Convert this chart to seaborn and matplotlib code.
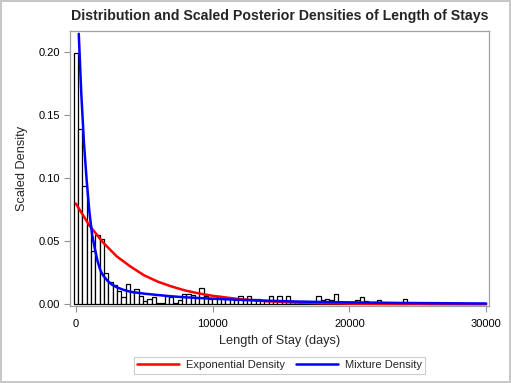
import numpy as np
import matplotlib
matplotlib.use("Agg")
import matplotlib.pyplot as plt
import seaborn as sns

# histogram: bin width and scaled heights
bin_width = 317
bar_heights = [
    0.199, 0.139, 0.094, 0.063, 0.042, 0.055, 0.052, 0.025, 0.018, 0.015,
    0.011, 0.006, 0.016, 0.010, 0.012, 0.007, 0.003, 0.004, 0.006, 0.001,
    0.001, 0.007, 0.006, 0.0013, 0.0032, 0.008, 0.008, 0.0074, 0.0053, 0.0127,
    0.0066, 0.004, 0.0048, 0.0066, 0.0048, 0.004, 0.004, 0.0032, 0.0064, 0.0032,
    0.0064, 0.004, 0.004, 0.0032, 0.0027, 0.0064, 0.0027, 0.0064, 0.0027, 0.0064,
    0.0021, 0.0019, 0.001, 0.001, 0.001, 0.0021, 0.0064, 0.0032, 0.004, 0.0032,
    0.0085, 0.0019, 0.001, 0.001, 0.0019, 0.0034, 0.0058, 0.0027, 0.001, 0.0021,
    0.0034, 0.001, 0.0005, 0.0, 0.0, 0.0, 0.004,
]
bin_centers = [i * bin_width for i in range(len(bar_heights))]

# exponential density curve
exp_x = [0, 1000, 2000, 3000, 4000, 5000, 6000, 7000, 8000, 9000, 10000,
         12000, 14000, 16000, 18000, 20000, 23000, 26000, 30000]
exp_y = [0.080, 0.0625, 0.049, 0.038, 0.030, 0.023, 0.018, 0.0142, 0.011, 0.0087,
         0.0068, 0.0041, 0.0025, 0.0015, 0.0009, 0.0006, 0.0003, 0.0001, 0.00005]

# mixture density curve
mix_x = [220, 400, 600, 800, 1000, 1200, 1400, 1600, 1800, 2000, 2300, 2600,
         3000, 3500, 4000, 5000, 6000, 7000, 8000, 10000, 12000, 14000, 16000,
         18000, 20000, 24000, 30000]
mix_y = [0.2145, 0.168, 0.128, 0.098, 0.073, 0.055, 0.044, 0.034, 0.027, 0.023,
         0.019, 0.016, 0.0135, 0.0115, 0.010, 0.0085, 0.0074, 0.0064, 0.0056,
         0.0045, 0.0036, 0.0029, 0.0023, 0.0019, 0.0016, 0.0011, 0.0007]

sns.set_theme(style="white")
plt.rcParams["font.family"] = ["Liberation Sans", "DejaVu Sans"]

fig = plt.figure(figsize=(5.11, 3.83), dpi=100)
fig.patch.set_edgecolor("#c8c8c8")
fig.patch.set_linewidth(1.5)
ax = fig.add_axes([0.137, 0.201, 0.8205, 0.719])

edges = [c - bin_width / 2 for c in bin_centers] + [bin_centers[-1] + bin_width / 2]
sns.histplot(x=bin_centers, weights=bar_heights, bins=edges, stat="count",
             color="white", edgecolor="black", linewidth=0.9, alpha=1, ax=ax)

sns.lineplot(x=exp_x, y=exp_y, color="#ff0000", linewidth=1.8,
             label="Exponential Density", ax=ax)
sns.lineplot(x=mix_x, y=mix_y, color="#0000ff", linewidth=1.8,
             label="Mixture Density", ax=ax)

ax.set_xlim(-420, 30230)
ax.set_ylim(-0.0013, 0.217)
ax.set_xticks([0, 10000, 20000, 30000])
ax.set_yticks([0.0, 0.05, 0.10, 0.15, 0.20])
ax.set_yticklabels(["0.00", "0.05", "0.10", "0.15", "0.20"])
ax.tick_params(axis="both", direction="out", length=4, width=0.8,
               color="#909090", labelsize=8, labelcolor="black", pad=3,
               bottom=True, left=True)
ax.tick_params(axis="x", pad=5)
for s in ax.spines.values():
    s.set_color("#a0a0a0")
    s.set_linewidth(0.9)

ax.set_xlabel("Length of Stay (days)", fontsize=9.2, labelpad=5)
ax.set_ylabel("Scaled Density", fontsize=9.2, labelpad=8)
ax.set_title("Distribution and Scaled Posterior Densities of Length of Stays",
             fontsize=10.2, fontweight="bold", pad=8)

leg = ax.legend(loc="upper center", bbox_to_anchor=(0.5, -0.165), ncol=2,
                fontsize=8, frameon=True, fancybox=False, handlelength=3.8,
                borderpad=0.3, columnspacing=1.0, handletextpad=0.6)
leg.get_frame().set_edgecolor("#c0c0c0")
leg.get_frame().set_linewidth(0.8)

fig.savefig("out.png", dpi=100)
